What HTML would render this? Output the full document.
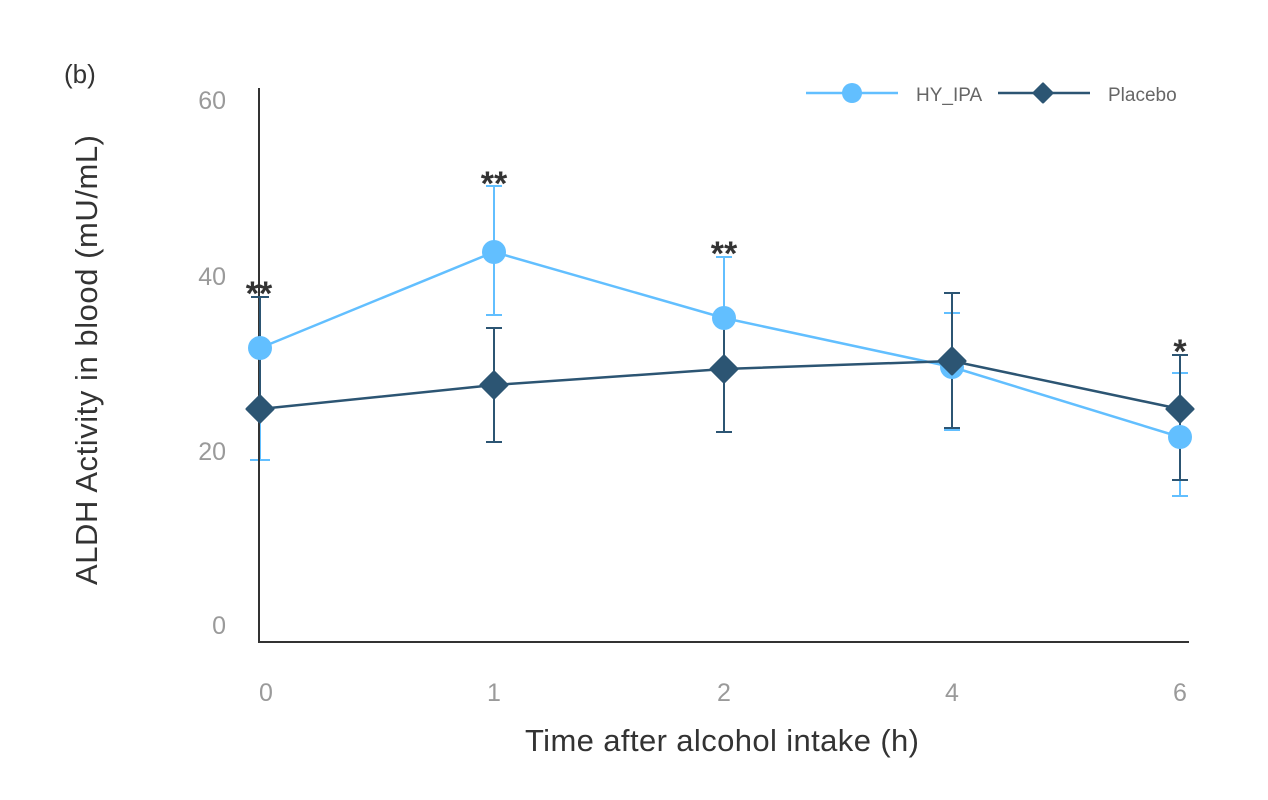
<!DOCTYPE html>
<html><head><meta charset="utf-8"><style>
html,body{margin:0;padding:0;background:#fff;}
svg{display:block;font-family:"Liberation Sans",sans-serif;}
</style></head><body>
<svg width="1268" height="800" viewBox="0 0 1268 800">
<text x="64" y="83" font-size="26" fill="#333">(b)</text>
<g font-size="25" fill="#9a9a9a" text-anchor="end">
<text x="226" y="109">60</text><text x="226" y="285">40</text><text x="226" y="460">20</text><text x="226" y="634">0</text>
</g>
<g font-size="25" fill="#9a9a9a" text-anchor="middle">
<text x="266" y="701">0</text><text x="494" y="701">1</text><text x="724" y="701">2</text><text x="952" y="701">4</text><text x="1180" y="701">6</text>
</g>
<text x="722" y="751" font-size="31" fill="#333" text-anchor="middle" textLength="394">Time after alcohol intake (h)</text>
<text transform="translate(97,360) rotate(-90)" font-size="31" fill="#333" text-anchor="middle" textLength="450">ALDH Activity in blood (mU/mL)</text>
<g stroke="#62bfff" stroke-width="2">
<line x1="260" y1="348" x2="260" y2="460"/><line x1="250" y1="460" x2="270" y2="460"/>
<line x1="494" y1="186" x2="494" y2="315"/><line x1="486" y1="186" x2="502" y2="186"/><line x1="486" y1="315" x2="502" y2="315"/>
<line x1="724" y1="257" x2="724" y2="380"/><line x1="716" y1="257" x2="732" y2="257"/>
<line x1="952" y1="313" x2="952" y2="430"/><line x1="944" y1="313" x2="960" y2="313"/><line x1="944" y1="430" x2="960" y2="430"/>
<line x1="1180" y1="373" x2="1180" y2="496"/><line x1="1172" y1="373" x2="1188" y2="373"/><line x1="1172" y1="496" x2="1188" y2="496"/>
</g>
<g stroke="#333" stroke-width="2"><line x1="259" y1="88" x2="259" y2="643"/><line x1="258" y1="642" x2="1189" y2="642"/></g>
<g stroke="#2c5573" stroke-width="2">
<line x1="260" y1="297" x2="260" y2="409"/><line x1="251" y1="297" x2="269" y2="297"/>
<line x1="494" y1="328" x2="494" y2="442"/><line x1="486" y1="328" x2="502" y2="328"/><line x1="486" y1="442" x2="502" y2="442"/>
<line x1="724" y1="310" x2="724" y2="432"/><line x1="716" y1="310" x2="732" y2="310"/><line x1="716" y1="432" x2="732" y2="432"/>
<line x1="952" y1="293" x2="952" y2="428"/><line x1="944" y1="293" x2="960" y2="293"/><line x1="944" y1="428" x2="960" y2="428"/>
<line x1="1180" y1="355" x2="1180" y2="480"/><line x1="1172" y1="355" x2="1188" y2="355"/><line x1="1172" y1="480" x2="1188" y2="480"/>
</g>
<polyline points="260,348 494,252 724,318 952,367 1180,437" fill="none" stroke="#62bfff" stroke-width="2.5"/>
<g fill="#62bfff"><circle cx="260" cy="348" r="12"/><circle cx="494" cy="252" r="12"/><circle cx="724" cy="318" r="12"/><circle cx="952" cy="367" r="12"/><circle cx="1180" cy="437" r="12"/></g>
<polyline points="260,409 494,385 724,369 952,361 1180,409" fill="none" stroke="#2c5573" stroke-width="2.5"/>
<g fill="#2c5573" stroke="#2c5573" stroke-width="3" stroke-linejoin="round">
<polygon points="260,396 273,409 260,422 247,409"/><polygon points="494,372 507,385 494,398 481,385"/><polygon points="724,356 737,369 724,382 711,369"/><polygon points="952,348 965,361 952,374 939,361"/><polygon points="1180,396 1193,409 1180,422 1167,409"/>
</g>
<g font-size="34" font-weight="bold" fill="#333" text-anchor="middle">
<text x="259" y="305">**</text><text x="494" y="195">**</text><text x="724" y="265">**</text><text x="1180" y="363">*</text>
</g>
<line x1="806" y1="93" x2="898" y2="93" stroke="#62bfff" stroke-width="2.5"/><circle cx="852" cy="93" r="10" fill="#62bfff"/>
<text x="916" y="101" font-size="19" fill="#666">HY_IPA</text>
<line x1="998" y1="93" x2="1090" y2="93" stroke="#2c5573" stroke-width="2.5"/>
<polygon points="1043,84 1052,93 1043,102 1034,93" fill="#2c5573" stroke="#2c5573" stroke-width="3" stroke-linejoin="round"/>
<text x="1108" y="101" font-size="19" fill="#666">Placebo</text>
</svg>
</body></html>
